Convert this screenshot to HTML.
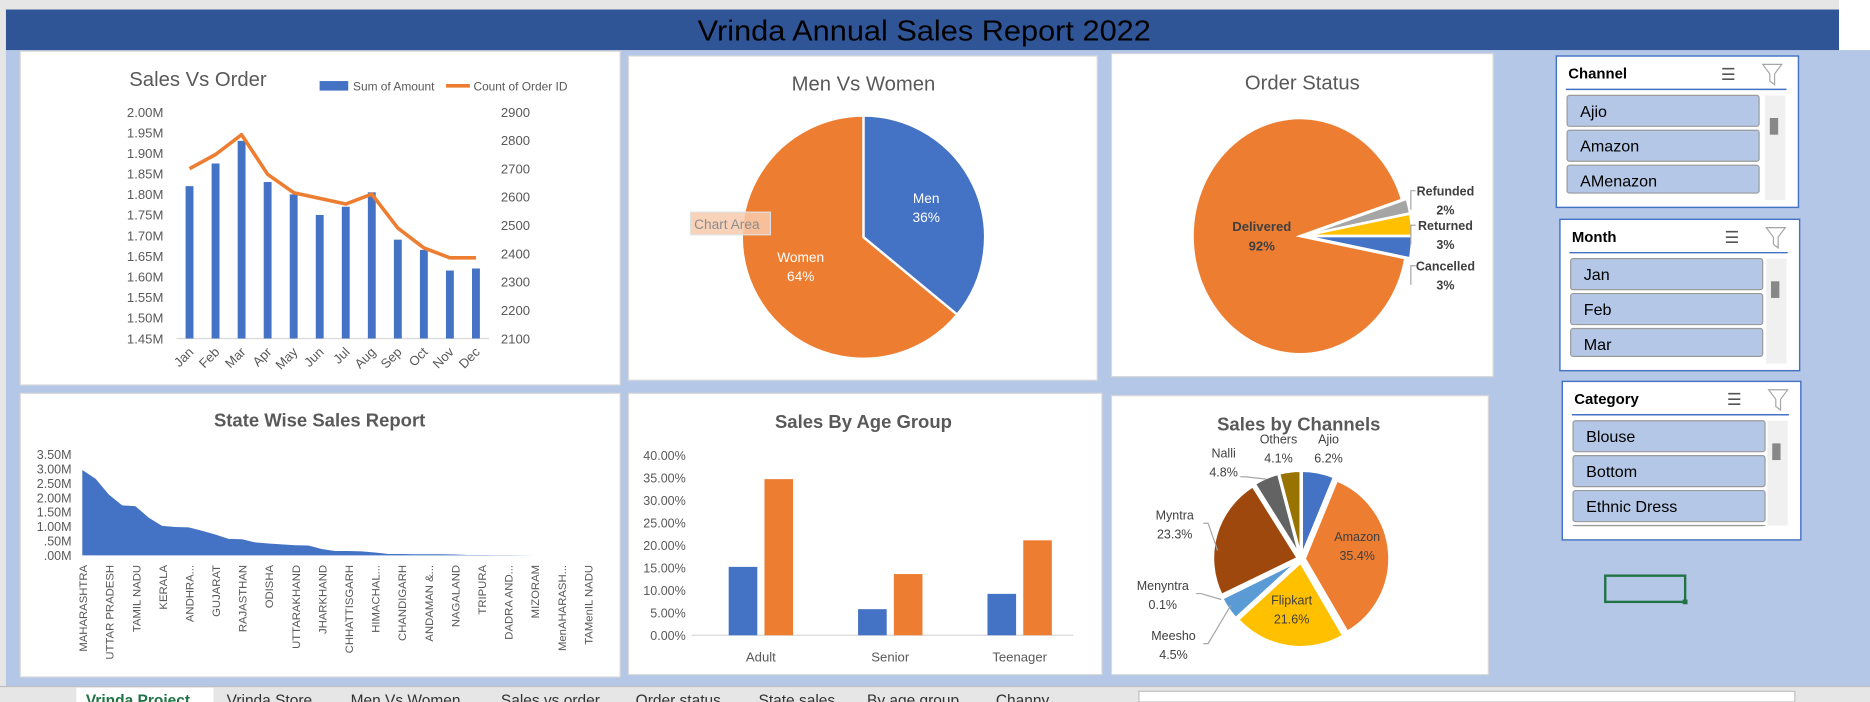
<!DOCTYPE html>
<html><head><meta charset="utf-8">
<style>
html,body{margin:0;padding:0;width:1870px;height:702px;overflow:hidden;background:#B4C7E7;}
svg{display:block;font-family:"Liberation Sans",sans-serif;}
</style></head>
<body>
<svg id="s" width="1870" height="702" viewBox="0 0 1568 589" preserveAspectRatio="none" xmlns="http://www.w3.org/2000/svg">
<rect x="0" y="0" width="1568" height="589" fill="#B4C7E7"/>
<rect x="0" y="0" width="1568" height="8" fill="#E6E6E6"/>
<rect x="0" y="0" width="5" height="589" fill="#E6E6E6"/>
<rect x="1542" y="0" width="26" height="42" fill="#FFFFFF"/>
<rect x="5" y="8" width="1537" height="34" fill="#2F5597"/>
<text x="775" y="34" font-size="24" text-anchor="middle" fill="#000" textLength="380" lengthAdjust="spacingAndGlyphs">Vrinda Annual Sales Report 2022</text>

<!-- panels -->
<rect x="17" y="43" width="503" height="280" fill="#fff" stroke="#D9D9D9"/>
<rect x="527" y="47" width="393" height="272" fill="#fff" stroke="#D9D9D9"/>
<rect x="932" y="45" width="320" height="271" fill="#fff" stroke="#D9D9D9"/>
<rect x="17" y="330" width="503" height="238" fill="#fff" stroke="#D9D9D9"/>
<rect x="527" y="330" width="397" height="236" fill="#fff" stroke="#D9D9D9"/>
<rect x="932" y="332" width="316" height="234" fill="#fff" stroke="#D9D9D9"/>

<g id="g1"></g><g id="g2"></g><g id="g3"></g><g id="g4"></g><g id="g5"></g><g id="g6"></g><g id="sl"></g>

<rect x="1346" y="483" width="67" height="22" fill="none" stroke="#217346" stroke-width="2"/>
<rect x="1411" y="503" width="4" height="4" fill="#217346"/>

<rect x="0" y="576" width="1568" height="13" fill="#E6E6E6"/>
<line x1="0" y1="576" x2="1568" y2="576" stroke="#BFBFBF"/>
<rect x="64" y="577" width="115" height="12" fill="#fff"/>
<g font-size="13" fill="#333">
<text x="72" y="592" fill="#217346" font-weight="bold">Vrinda Project</text>
<text x="190" y="592">Vrinda Store</text>
<text x="294" y="592">Men Vs Women</text>
<text x="420" y="592">Sales vs order</text>
<text x="533" y="592">Order status</text>
<text x="636" y="592">State sales</text>
<text x="727" y="592">By age group</text>
<text x="835" y="592">Channy</text>
</g>
<rect x="955" y="580" width="550" height="9" fill="#fff" stroke="#BFBFBF"/>
</svg>
<script>
// ---------- data ----------
const months=["Jan","Feb","Mar","Apr","May","Jun","Jul","Aug","Sep","Oct","Nov","Dec"];
const salesAmount=[1.82,1.875,1.93,1.83,1.80,1.75,1.77,1.805,1.69,1.665,1.615,1.62];
const orderCount=[2700,2750,2820,2680,2615,2595,2575,2610,2490,2420,2385,2385];
const leftTicks=[1.45,1.50,1.55,1.60,1.65,1.70,1.75,1.80,1.85,1.90,1.95,2.00];
const rightTicks=[2100,2200,2300,2400,2500,2600,2700,2800,2900];
const genderLabels=["Men","Women"];
const genderValues=[36,64];
const statusLabels=["Cancelled","Delivered","Refunded","Returned"];
const statusValues=[3,92,2,3];
const states=["MAHARASHTRA","KARNATAKA","UTTAR PRADESH","TELANGANA","TAMIL NADU","DELHI","KERALA","WEST BENGAL","ANDHRA PRADESH","HARYANA","GUJARAT","BIHAR","RAJASTHAN","ASSAM","ODISHA","PUNJAB","UTTARAKHAND","MADHYA PRADESH","JHARKHAND","GOA","CHHATTISGARH","JAMMU & KASHMIR","HIMACHAL PRADESH","MANIPUR","CHANDIGARH","PUDUCHERRY","ANDAMAN & NICOBAR","MEGHALAYA","NAGALAND","SIKKIM","TRIPURA","ARUNACHAL PRADESH","DADRA AND NAGAR","LADAKH","MIZORAM","LAKSHADWEEP","MenAHARASHTRA","New Delhi","TAMenIL NADU","Bihar"];
const stateShort=["MAHARASHTRA","","UTTAR PRADESH","","TAMIL NADU","","KERALA","","ANDHRA...","","GUJARAT","","RAJASTHAN","","ODISHA","","UTTARAKHAND","","JHARKHAND","","CHHATTISGARH","","HIMACHAL...","","CHANDIGARH","","ANDAMAN &...","","NAGALAND","","TRIPURA","","DADRA AND...","","MIZORAM","","MenAHARASH...","","TAMenIL NADU",""];
const stateSales=[2.95,2.65,2.1,1.73,1.70,1.3,1.02,0.98,0.97,0.85,0.72,0.57,0.56,0.45,0.41,0.38,0.35,0.34,0.22,0.15,0.15,0.14,0.10,0.05,0.05,0.04,0.04,0.04,0.03,0.015,0.012,0.01,0.01,0.005,0,0,0,0,0,0];
const stateTicks=[0,0.5,1,1.5,2,2.5,3,3.5];
const stateTickLabels=[".00M",".50M","1.00M","1.50M","2.00M","2.50M","3.00M","3.50M"];
const ageGroups=["Adult","Senior","Teenager"];
const ageMen=[15.2,5.8,9.2];
const ageWomen=[34.7,13.6,21.1];
const ageTicks=[0,5,10,15,20,25,30,35,40];
const channelLabels=["Ajio","Amazon","Flipkart","Meesho","Menyntra","Myntra","Nalli","Others"];
const channelValues=[6.2,35.4,21.6,4.5,0.1,23.3,4.8,4.1];

const NS="http://www.w3.org/2000/svg";
function mk(parent,tag,attrs,txt){const e=document.createElementNS(NS,tag);for(const k in attrs)e.setAttribute(k,attrs[k]);if(txt!==undefined)e.textContent=txt;document.getElementById(parent).appendChild(e);return e;}
const GRAY="#595959";

// ---------- Chart 1: Sales vs Order ----------
(function(){
 const x0=148,x1=410,yTop=94,yBot=284;
 const yL=v=>yBot-(v-1.45)/(2.0-1.45)*(yBot-yTop);
 const yR=v=>yBot-(v-2100)/(2900-2100)*(yBot-yTop);
 const bw=(x1-x0)/months.length;
 const xc=i=>x0+bw*(i+0.5);
 let t=mk('g1','text',{x:166,y:72,'font-size':17,fill:GRAY,'text-anchor':'middle'},"Sales Vs Order");
 
 let lr=mk('g1','rect',{x:268,y:68,width:24,height:8,fill:'#4472C4'});
 
 mk('g1','text',{x:296,y:76,'font-size':10,fill:GRAY},"Sum of Amount");
 let ll=mk('g1','line',{x1:374,y1:72,x2:394,y2:72,stroke:'#ED7D31','stroke-width':3});
 
 mk('g1','text',{x:397,y:76,'font-size':10,fill:GRAY},"Count of Order ID");
 leftTicks.forEach(v=>{const e=mk('g1','text',{x:137,y:yL(v)+4,'font-size':11,fill:GRAY,'text-anchor':'end'},v.toFixed(2)+"M");
  });
 rightTicks.forEach(v=>{const e=mk('g1','text',{x:420,y:yR(v)+4,'font-size':11,fill:GRAY},String(v));
  });
 mk('g1','line',{x1:x0,y1:yBot,x2:x1,y2:yBot,stroke:'#D9D9D9'});
 salesAmount.forEach((v,i)=>{const b=mk('g1','rect',{x:xc(i)-3.3,y:yL(v),width:6.6,height:yBot-yL(v),fill:'#4472C4'});
  });
 const pl=mk('g1','polyline',{points:orderCount.map((v,i)=>xc(i)+","+yR(v)).join(" "),fill:'none',stroke:'#ED7D31','stroke-width':3,'stroke-linejoin':'round'});
 
 months.forEach((m,i)=>{const e=mk('g1','text',{x:xc(i)+4,y:296,'font-size':11,fill:GRAY,'text-anchor':'end',transform:`rotate(-45 ${xc(i)+4} 296)`},m);
  });
})();

// ---------- pie helper ----------
function pie(g,cx,cy,rx,ry,vals,colors,startDeg,explode,names){
 const tot=vals.reduce((a,b)=>a+b,0);let a=startDeg*Math.PI/180;const mids=[];
 vals.forEach((v,i)=>{const da=v/tot*2*Math.PI;const m=a+da/2;const ox=explode*Math.sin(m),oy=-explode*Math.cos(m);
  const p=(ang)=>[cx+ox+rx*Math.sin(ang),cy+oy-ry*Math.cos(ang)];
  const s=p(a),e=p(a+da);const large=da>Math.PI?1:0;
  const d=`M${cx+ox},${cy+oy} L${s[0]},${s[1]} A${rx},${ry} 0 ${large} 1 ${e[0]},${e[1]} Z`;
  const el=mk(g,'path',{d:d,fill:colors[i],stroke:'#fff','stroke-width':2});
  
  mids.push(m);a+=da;});
 return mids;
}

// ---------- Chart 2: Men vs Women ----------
(function(){
 let t=mk('g2','text',{x:724,y:76,'font-size':17,fill:GRAY,'text-anchor':'middle'},"Men Vs Women");
 
 const cx=724,cy=199,r=102;
 const mids=pie('g2',cx,cy,r,r,genderValues,['#4472C4','#ED7D31'],0,0,genderLabels);
 genderLabels.forEach((l,i)=>{const lx=cx+r*0.57*Math.sin(mids[i]),ly=cy-r*0.57*Math.cos(mids[i]);
  const e=mk('g2','text',{x:lx,y:ly-4,'font-size':11.5,fill:'#fff','text-anchor':'middle'},l);
  
  mk('g2','text',{x:lx,y:ly+12,'font-size':11.5,fill:'#fff','text-anchor':'middle'},genderValues[i]+"%");});
 const tip=mk('g2','rect',{x:579,y:178,width:67,height:19,fill:'#F8CBAD','fill-opacity':0.85,stroke:'#E0E0E0'});
 
 mk('g2','text',{x:582,y:192,'font-size':11.5,fill:'#8C8C8C'},"Chart Area");
})();

// ---------- Chart 3: Order Status ----------
(function(){
 let t=mk('g3','text',{x:1092,y:75,'font-size':17,fill:GRAY,'text-anchor':'middle'},"Order Status");
 
 const cx=1092,cy=198,rx=90,ry=99;
 pie('g3',cx,cy,rx,ry,statusValues,['#4472C4','#ED7D31','#A5A5A5','#FFC000'],90,2,statusLabels);
 const d=mk('g3','text',{x:1058,y:194,'font-size':11,'font-weight':'bold',fill:'#404040','text-anchor':'middle'},statusLabels[1]);
 
 mk('g3','text',{x:1058,y:210,'font-size':11,'font-weight':'bold',fill:'#404040','text-anchor':'middle'},statusValues[1]+"%");
 const side=[[2,164],[3,193],[0,227]];
 side.forEach(([i,y])=>{const e=mk('g3','text',{x:1212,y:y,'font-size':10.5,'font-weight':'bold',fill:'#404040','text-anchor':'middle'},statusLabels[i]);
  
  mk('g3','text',{x:1212,y:y+16,'font-size':10.5,'font-weight':'bold',fill:'#404040','text-anchor':'middle'},statusValues[i]+"%");
  mk('g3','polyline',{points:`${1187},${y-4} ${1183},${y-4} ${1183},${y+12}`,fill:'none',stroke:'#A6A6A6'});});
})();

// ---------- Chart 4: State wise ----------
(function(){
 let t=mk('g4','text',{x:268,y:358,'font-size':15.5,'font-weight':'bold',fill:GRAY,'text-anchor':'middle'},"State Wise Sales Report");
 
 const x0=69,step=11.15,yB=466,yT=381;
 const y=v=>yB-v/3.5*(yB-yT);const x=i=>x0+i*step;
 stateTicks.forEach((v,i)=>{const e=mk('g4','text',{x:60,y:y(v)+4,'font-size':10.5,fill:GRAY,'text-anchor':'end'},stateTickLabels[i]);
  });
 let d=`M${x(0)},${yB} `+stateSales.map((v,i)=>`L${x(i)},${y(v)}`).join(" ")+` L${x(stateSales.length-1)},${yB} Z`;
 const ar=mk('g4','path',{d:d,fill:'#4472C4'});
 
 stateShort.forEach((l,i)=>{if(!l)return;const e=mk('g4','text',{x:0,y:0,'font-size':9.5,fill:GRAY,'text-anchor':'end',transform:`translate(${x(i)+4},474) rotate(-90)`},l);
  });
})();

// ---------- Chart 5: Age group ----------
(function(){
 let t=mk('g5','text',{x:724,y:359,'font-size':15.5,'font-weight':'bold',fill:GRAY,'text-anchor':'middle'},"Sales By Age Group");
 
 const yB=533,yT=382;const y=v=>yB-v/40*(yB-yT);
 const gx=i=>638+i*108.5;
 ageTicks.forEach(v=>{const e=mk('g5','text',{x:575,y:y(v)+4,'font-size':10.5,fill:GRAY,'text-anchor':'end'},v.toFixed(2)+"%");
  });
 mk('g5','line',{x1:580,y1:yB,x2:900,y2:yB,stroke:'#D9D9D9'});
 ageGroups.forEach((g,i)=>{
  const b1=mk('g5','rect',{x:gx(i)-27,y:y(ageMen[i]),width:24,height:yB-y(ageMen[i]),fill:'#4472C4'});
  
  const b2=mk('g5','rect',{x:gx(i)+3,y:y(ageWomen[i]),width:24,height:yB-y(ageWomen[i]),fill:'#ED7D31'});
  
  const e=mk('g5','text',{x:gx(i),y:555,'font-size':11,fill:GRAY,'text-anchor':'middle'},g);
  });
})();

// ---------- Chart 6: Channels ----------
(function(){
 let t=mk('g6','text',{x:1089,y:361,'font-size':15.5,'font-weight':'bold',fill:GRAY,'text-anchor':'middle'},"Sales by Channels");
 
 const cx=1091,cy=469,r=71;
 pie('g6',cx,cy,r,r,channelValues,['#4472C4','#ED7D31','#FFC000','#5B9BD5','#70AD47','#9E480E','#636363','#997300'],0,3,channelLabels);
 const pos=[[1114,372,'#404040'],[1138,454,'#404040'],[1083,507,'#404040'],[984,537,'#404040'],[975,495,'#404040'],[985,436,'#404040'],[1026,384,'#404040'],[1072,372,'#404040']];
 channelLabels.forEach((l,i)=>{const [lx,ly,c]=pos[i];
  const e=mk('g6','text',{x:lx,y:ly,'font-size':10.5,fill:c,'text-anchor':'middle'},l);
  
  mk('g6','text',{x:lx,y:ly+16,'font-size':10.5,fill:c,'text-anchor':'middle'},channelValues[i].toFixed(1)+"%");});
 [[1040,400,1062,402],[1009,439,1021,462],[1003,498,1024,503],[1009,540,1032,508]].forEach(a=>mk('g6','polyline',{points:`${a[0]},${a[1]} ${a[0]+4},${a[1]} ${a[2]},${a[3]}`,fill:'none',stroke:'#A6A6A6'}));
})();

// ---------- Slicers ----------
(function(){
 const slicers=[{n:"Channel",x:1305,y:47,w:203,h:127,items:["Ajio","Amazon","AMenazon"]},
  {n:"Month",x:1308,y:184,w:201,h:127,items:["Jan","Feb","Mar"]},
  {n:"Category",x:1310,y:320,w:200,h:133,items:["Blouse","Bottom","Ethnic Dress",""]}];
 slicers.forEach(s=>{
  const b=mk('sl','rect',{x:s.x,y:s.y,width:s.w,height:s.h,fill:'#fff',stroke:'#4472C4','stroke-width':1.2});
  
  mk('sl','text',{x:s.x+10,y:s.y+19,'font-size':12.5,'font-weight':'bold',fill:'#000'},s.n);
  const ms=mk('sl','text',{x:s.x+138,y:s.y+20,'font-size':14,fill:'#555'},"☰");
  
  const fl=mk('sl','path',{d:`M${s.x+173},${s.y+7} h16 l-6,8 v9 l-4,-3 v-6 z`,fill:'none',stroke:'#A6A6A6'});
  
  mk('sl','line',{x1:s.x+8,y1:s.y+28,x2:s.x+s.w-10,y2:s.y+28,stroke:'#4472C4','stroke-width':1.2});
  mk('sl','rect',{x:s.x+s.w-28,y:s.y+33,width:17,height:88,fill:'#F0F0F0'});
  mk('sl','rect',{x:s.x+s.w-24,y:s.y+52,width:7,height:14,fill:'#888'});
  s.items.forEach((it,i)=>{const iy=s.y+33+i*29.3;const hh=Math.min(26,s.y+s.h-12-iy);if(hh<=0)return;
   const r=mk('sl','rect',{x:s.x+9,y:iy,width:161,height:hh,rx:2,fill:'#B4C7E7',stroke:'#9A9A9A'});
   
   if(it)mk('sl','text',{x:s.x+20,y:iy+18,'font-size':13.5,fill:'#000'},it);});
 });
})();
</script>
</body></html>
